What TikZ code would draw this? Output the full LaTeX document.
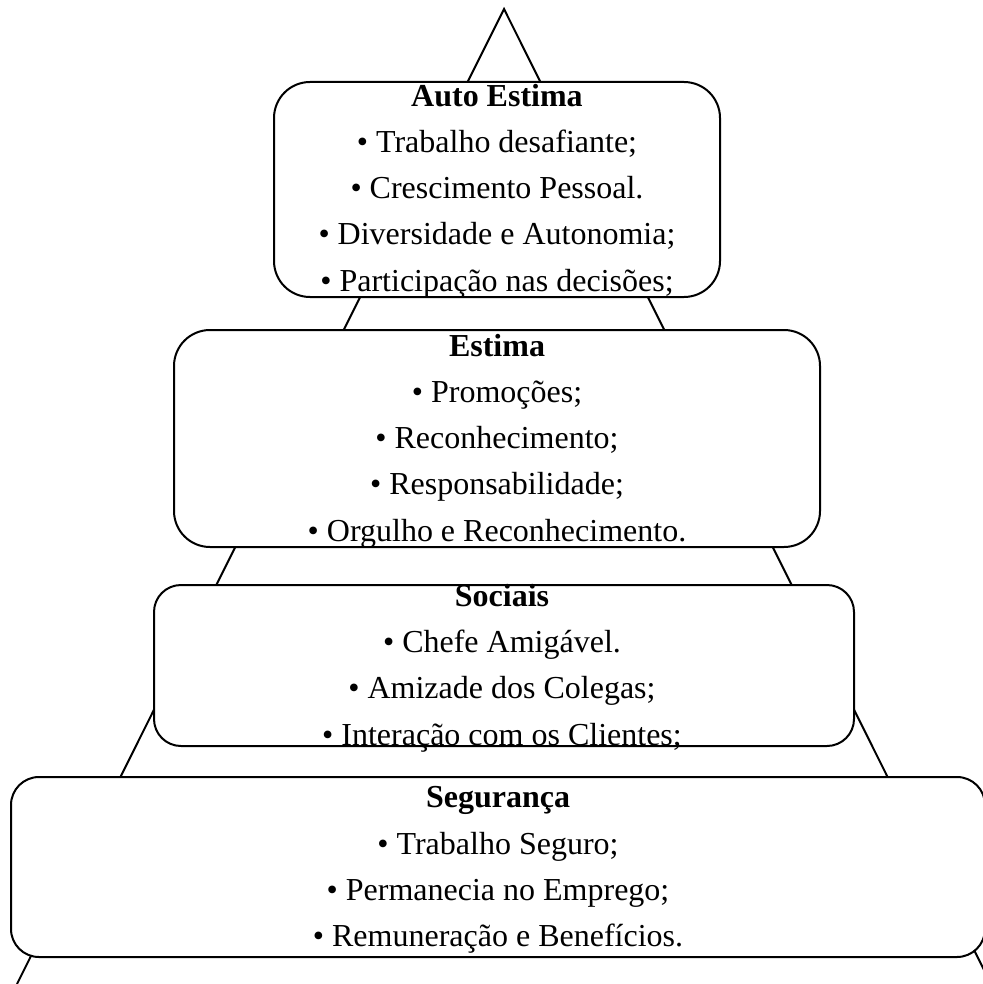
\documentclass[tikz,border=0pt]{standalone}
\usepackage{fontspec}
\setmainfont{Liberation Serif}
\tikzset{
  nivel/.style={draw, line width=1pt, fill=white},
  texto/.style={align=center, inner sep=0pt, font=\fontsize{16}{23.1}\selectfont}
}
\begin{document}
\begin{tikzpicture}[x=0.5pt,y=-0.5pt]
\useasboundingbox (0,0) rectangle (983,984);
\draw[line width=1pt] (17,984) -- (504,9) -- (991,984);

\draw[nivel,rounded corners=18pt] (274,82) rectangle (720,297);
\node[texto] (autoestima) at (497,191) {\textbf{Auto Estima}\\• Trabalho desafiante;\\• Crescimento Pessoal.\\• Diversidade e Autonomia;\\• Participação nas decisões;};

\draw[nivel,rounded corners=18pt] (174,330) rectangle (820,547);
\node[texto] (estima) at (497,441) {\textbf{Estima}\\• Promoções;\\• Reconhecimento;\\• Responsabilidade;\\• Orgulho e Reconhecimento.};

\draw[nivel,rounded corners=13.5pt] (154,585) rectangle (854,746);
\node[texto] (sociais) at (502,668) {\textbf{Sociais}\\• Chefe Amigável.\\• Amizade dos Colegas;\\• Interação com os Clientes;};

\draw[nivel,rounded corners=14pt] (11,777) rectangle (985,957);
\node[texto] (seguranca) at (498,870) {\textbf{Segurança}\\• Trabalho Seguro;\\• Permanecia no Emprego;\\• Remuneração e Benefícios.};
\end{tikzpicture}
\end{document}
